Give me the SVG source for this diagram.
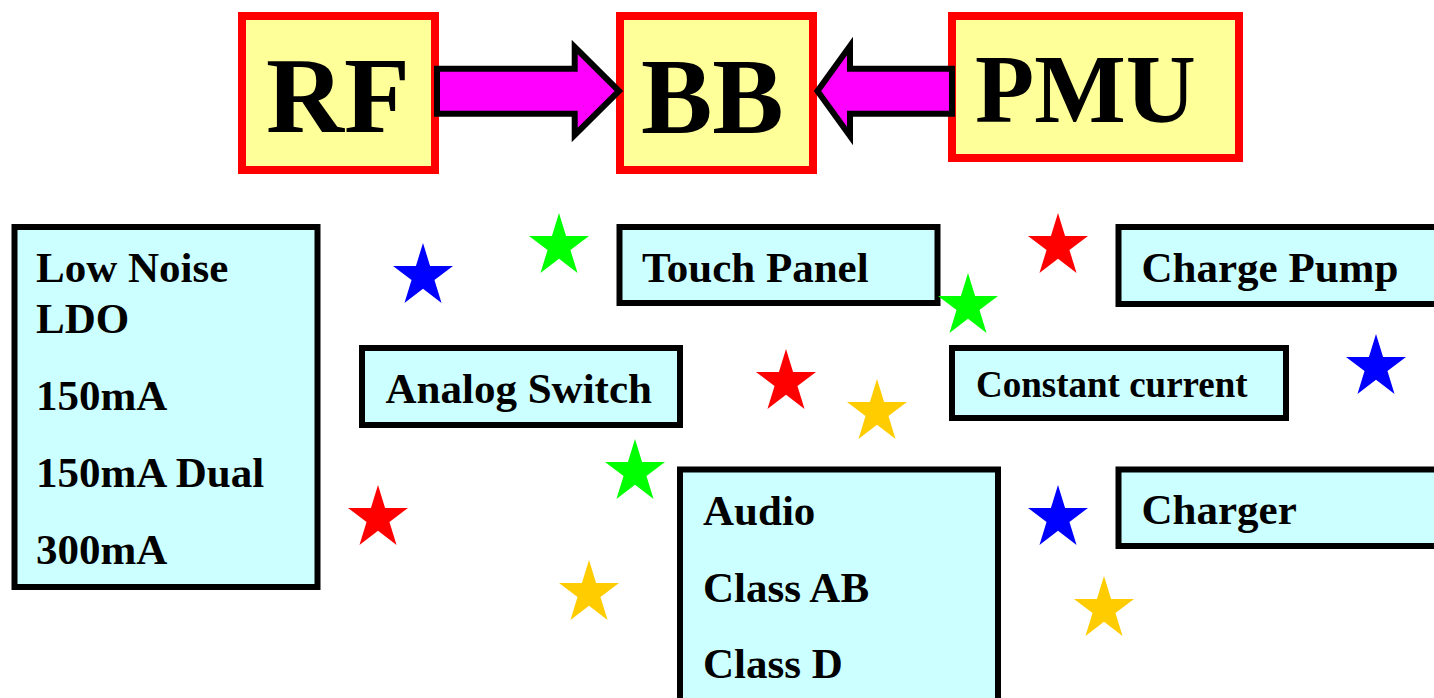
<svg xmlns="http://www.w3.org/2000/svg" xmlns:xlink="http://www.w3.org/1999/xlink" width="1434" height="698" viewBox="0 0 1434 698">
  <style>
    .blk { fill: #FFFF99; stroke: #FF0000; stroke-width: 8; }
    .box { fill: #CCFFFF; stroke: #000000; stroke-width: 6; }
    .big { font-family: "Liberation Serif", "Times New Roman", serif; font-weight: bold; fill: #000; }
    .lbl { font-family: "Liberation Serif", "Times New Roman", serif; font-weight: bold; font-size: 43px; fill: #000; }
    .lbl.sm { font-size: 37px; }
    .arrow { fill: #FF00FF; stroke: #000000; stroke-width: 6; stroke-linejoin: miter; stroke-miterlimit: 10; }
  </style>
  <defs>
    <path id="star" d="M30 0 L37.08 22.92 L60 22.92 L41.46 37.09 L48.55 60 L30 45.84 L11.45 60 L18.54 37.09 L0 22.92 L22.92 22.92 Z"/>
  </defs>
  <rect width="1434" height="698" fill="#FFFFFF"/>

  <g id="rf">
    <rect class="blk" x="242" y="16" width="193" height="154"/>
    <text class="big" x="266" y="132" font-size="108">RF</text>
  </g>
  <g id="bb">
    <rect class="blk" x="620" y="16" width="193" height="154"/>
    <text class="big" x="641" y="133" font-size="107">BB</text>
  </g>
  <g id="pmu">
    <rect class="blk" x="952" y="16" width="287" height="142"/>
    <text class="big" x="975" y="122" font-size="97">PMU</text>
  </g>

  <g id="ldo">
    <rect class="box" x="14.5" y="227" width="303" height="360"/>
    <text class="lbl" x="36" y="282">Low Noise</text>
    <text class="lbl" x="36" y="333">LDO</text>
    <text class="lbl" x="36" y="410">150mA</text>
    <text class="lbl" x="36" y="487">150mA Dual</text>
    <text class="lbl" x="36" y="564">300mA</text>
  </g>
  <g id="touch-panel">
    <rect class="box" x="619.5" y="227" width="318" height="76"/>
    <text class="lbl" x="642" y="282">Touch Panel</text>
  </g>
  <g id="charge-pump">
    <rect class="box" x="1118.5" y="227" width="340" height="77"/>
    <text class="lbl" x="1141.5" y="282">Charge Pump</text>
  </g>
  <g id="analog-switch">
    <rect class="box" x="362" y="348" width="318" height="77"/>
    <text class="lbl" x="385.5" y="403">Analog Switch</text>
  </g>
  <g id="constant-current">
    <rect class="box" x="952" y="348" width="334" height="70"/>
    <text class="lbl sm" x="976" y="397">Constant current</text>
  </g>
  <g id="audio">
    <rect class="box" x="680" y="469.5" width="318" height="260"/>
    <text class="lbl" x="703" y="525">Audio</text>
    <text class="lbl" x="703" y="601.5">Class AB</text>
    <text class="lbl" x="703" y="677.5">Class D</text>
  </g>
  <g id="charger">
    <rect class="box" x="1118.5" y="469.5" width="340" height="76.5"/>
    <text class="lbl" x="1141.5" y="524">Charger</text>
  </g>

  <g id="connectors">
    <polygon class="arrow" points="437,68.7 574.7,68.7 574.7,47 619,91 574.7,135 574.7,113.7 437,113.7"/>
    <polygon class="arrow" points="952,68.7 850,68.7 850,46 817.5,91 850,136 850,113.7 952,113.7"/>
  </g>

  <g id="stars">
    <use xlink:href="#star" href="#star" x="393" y="243" fill="#0000FF"/>
    <use xlink:href="#star" href="#star" x="529" y="213" fill="#00FF00"/>
    <use xlink:href="#star" href="#star" x="938" y="273" fill="#00FF00"/>
    <use xlink:href="#star" href="#star" x="756" y="349" fill="#FF0000"/>
    <use xlink:href="#star" href="#star" x="847" y="379" fill="#FFCC00"/>
    <use xlink:href="#star" href="#star" x="1028" y="213" fill="#FF0000"/>
    <use xlink:href="#star" href="#star" x="1346" y="334" fill="#0000FF"/>
    <use xlink:href="#star" href="#star" x="348" y="485" fill="#FF0000"/>
    <use xlink:href="#star" href="#star" x="605" y="439" fill="#00FF00"/>
    <use xlink:href="#star" href="#star" x="559" y="560" fill="#FFCC00"/>
    <use xlink:href="#star" href="#star" x="1028" y="485" fill="#0000FF"/>
    <use xlink:href="#star" href="#star" x="1074" y="576" fill="#FFCC00"/>
  </g>
</svg>
